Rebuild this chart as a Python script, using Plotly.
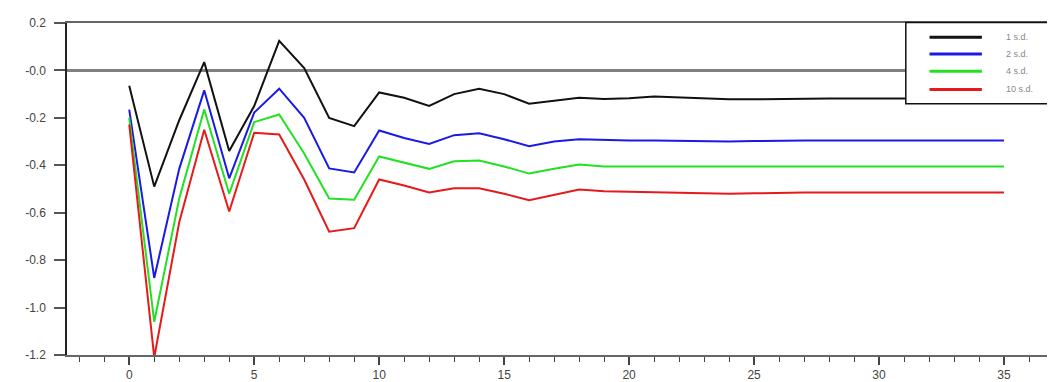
import plotly.graph_objects as go

x_vals = list(range(36))

series_names = ["1 s.d.", "2 s.d.", "4 s.d.", "10 s.d."]

sd1 = [-0.065, -0.49, -0.21, 0.035, -0.34, -0.15, 0.125, 0.01, -0.20, -0.235,
       -0.093, -0.115, -0.15, -0.10, -0.077, -0.10, -0.14, -0.127, -0.115, -0.12,
       -0.117, -0.11, -0.115, -0.12, -0.122, -0.122, -0.12, -0.118, -0.118, -0.118,
       -0.117, -0.118, -0.12, -0.12, -0.12, -0.12]
sd2 = [-0.165, -0.875, -0.415, -0.084, -0.455, -0.178, -0.077, -0.20, -0.413, -0.43,
       -0.253, -0.285, -0.31, -0.273, -0.265, -0.29, -0.32, -0.30, -0.29, -0.293,
       -0.295, -0.295, -0.297, -0.30, -0.30, -0.298, -0.295, -0.295, -0.295, -0.295,
       -0.295, -0.295, -0.295, -0.295, -0.295, -0.295]
sd4 = [-0.20, -1.06, -0.54, -0.165, -0.52, -0.218, -0.186, -0.35, -0.54, -0.545,
       -0.363, -0.39, -0.415, -0.383, -0.38, -0.405, -0.435, -0.415, -0.397, -0.405,
       -0.405, -0.405, -0.407, -0.407, -0.407, -0.405, -0.405, -0.405, -0.405, -0.407,
       -0.407, -0.407, -0.405, -0.405, -0.405, -0.405]
sd10 = [-0.228, -1.21, -0.64, -0.25, -0.595, -0.263, -0.27, -0.46, -0.68, -0.665,
        -0.46, -0.485, -0.515, -0.497, -0.497, -0.52, -0.547, -0.525, -0.502, -0.51,
        -0.512, -0.515, -0.518, -0.52, -0.52, -0.518, -0.515, -0.515, -0.515, -0.515,
        -0.515, -0.515, -0.515, -0.515, -0.515, -0.515]

y_tick_vals = [0.2, 0.0, -0.2, -0.4, -0.6, -0.8, -1.0, -1.2]
y_tick_text = ["0.2", "-0.0", "-0.2", "-0.4", "-0.6", "-0.8", "-1.0", "-1.2"]
x_tick_vals = [0, 5, 10, 15, 20, 25, 30, 35]

colors = ["#111111", "#1a1ae6", "#22e022", "#e61a1a"]
all_series = [sd1, sd2, sd4, sd10]

fig = go.Figure()
for name, ys, c in zip(series_names, all_series, colors):
    fig.add_trace(go.Scatter(x=x_vals, y=ys, mode="lines", name=name,
                             line=dict(color=c, width=2), showlegend=False))

# custom legend (box, line samples, labels)
leg_x0, leg_x1, leg_y0, leg_y1 = 0.849, 1.03, 0.757, 1.0015
sample_x0, sample_x1 = 0.873, 0.926
text_x = 0.948
row_y = [0.957, 0.907, 0.855, 0.800]
shapes = [dict(type="rect", xref="paper", yref="paper", x0=leg_x0, x1=leg_x1,
               y0=leg_y0, y1=leg_y1, line=dict(color="#111111", width=1.5),
               fillcolor="white", layer="above")]
annotations = []
for name, c, ry in zip(series_names, colors, row_y):
    shapes.append(dict(type="line", xref="paper", yref="paper", x0=sample_x0, x1=sample_x1,
                       y0=ry, y1=ry, line=dict(color=c, width=3), layer="above"))
    annotations.append(dict(xref="paper", yref="paper", x=text_x, y=ry, text=name,
                            showarrow=False, xanchor="left", yanchor="middle",
                            font=dict(size=9, color="#888888", family="Liberation Sans")))

# page body has an 8px default margin, so margins are offset to compensate
fig.update_layout(
    width=1055, height=382,
    margin=dict(l=58.7, r=8, t=11.5, b=35),
    paper_bgcolor="white", plot_bgcolor="white",
    font=dict(family="Liberation Sans, Arial, sans-serif", size=12, color="#444444"),
    shapes=shapes, annotations=annotations,
    xaxis=dict(range=[-2.49, 37.04], tickvals=x_tick_vals, ticks="outside", ticklen=8,
               tickwidth=1.5, tickcolor="#444444", showline=True, linecolor="#666666",
               linewidth=2, mirror=True, showgrid=False, zeroline=False,
               minor=dict(dtick=1, ticks="outside", ticklen=5, tickwidth=1.2,
                          tickcolor="#444444", showgrid=False),
               tickfont=dict(size=12, color="#444444")),
    yaxis=dict(range=[-1.2, 0.2], tickvals=y_tick_vals, ticktext=y_tick_text,
               ticks="outside", ticklen=11, tickwidth=2, tickcolor="#555555",
               showline=True, linecolor="#222222", linewidth=1.5, showgrid=False,
               zeroline=True, zerolinecolor="#808080", zerolinewidth=2.5,
               ticklabelstandoff=6, tickfont=dict(size=12, color="#444444")),
)

fig.write_html("out.html")
